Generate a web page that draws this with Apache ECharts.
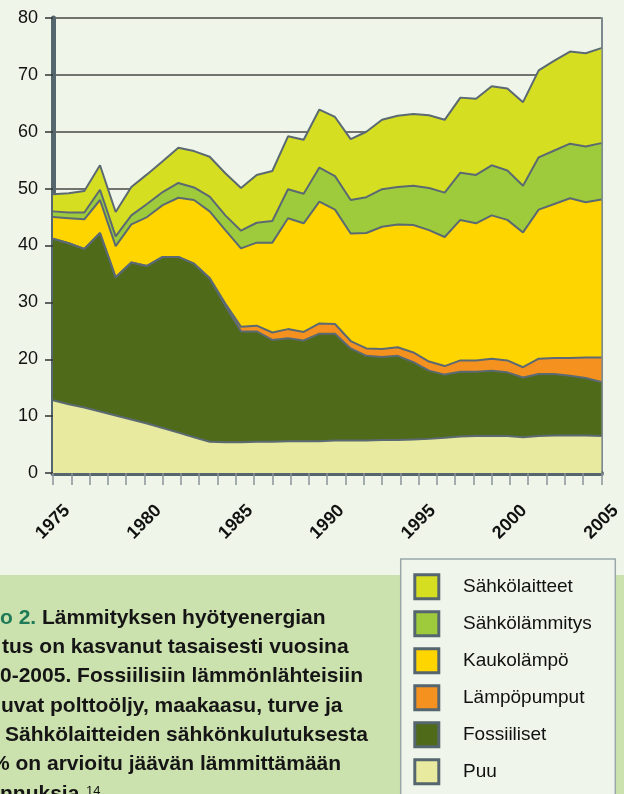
<!DOCTYPE html>
<html>
<head>
<meta charset="utf-8">
<script src="https://cdn.jsdelivr.net/npm/echarts@6/dist/echarts.min.js"></script>
<style>
html,body{margin:0;padding:0;background:#eff5e8;}
#c{width:624px;height:794px;}
</style>
</head>
<body>
<div id="c"></div>
<script>
// data years (36 points, drawn across the labelled 1975–2005 axis)
const dataYears = [1970,1971,1972,1973,1974,1975,1976,1977,1978,1979,1980,1981,1982,1983,1984,1985,1986,1987,1988,1989,1990,1991,1992,1993,1994,1995,1996,1997,1998,1999,2000,2001,2002,2003,2004,2005];
// axis tick labels shown under the chart
const tickYears = [1975,1976,1977,1978,1979,1980,1981,1982,1983,1984,1985,1986,1987,1988,1989,1990,1991,1992,1993,1994,1995,1996,1997,1998,1999,2000,2001,2002,2003,2004,2005];
const yTicks = [0,10,20,30,40,50,60,70,80];

const puu = [12.8,12.1,11.5,10.8,10.1,9.4,8.7,7.9,7.1,6.3,5.5,5.4,5.4,5.5,5.5,5.6,5.6,5.6,5.7,5.7,5.7,5.8,5.8,5.9,6.0,6.2,6.4,6.5,6.5,6.5,6.3,6.5,6.6,6.6,6.6,6.5];
const fossiiliset = [28.4,28.3,27.9,31.4,24.3,27.6,27.7,30.1,30.9,30.5,28.7,24.0,19.5,19.4,17.9,18.1,17.7,18.9,18.8,16.2,14.9,14.6,14.8,13.6,12.0,11.1,11.4,11.3,11.5,11.2,10.5,10.9,10.8,10.5,10.1,9.5];
const lampopumput = [0,0,0,0,0,0,0,0,0,0,0.1,0.4,0.8,1.0,1.3,1.6,1.5,1.8,1.7,1.3,1.3,1.4,1.5,1.7,1.6,1.5,2.0,2.0,2.1,2.1,1.8,2.7,2.8,3.1,3.6,4.3];
const kaukolampo = [3.8,4.4,5.2,5.8,5.5,6.7,8.6,9.1,10.4,11.2,11.7,12.9,13.8,14.6,15.8,19.5,19.1,21.4,20.1,18.9,20.3,21.5,21.6,22.4,23.1,22.7,24.7,24.1,25.2,24.7,23.7,26.2,27.1,28.1,27.3,27.8];
const sahkolammitys = [1.0,1.0,1.2,1.8,1.7,1.6,2.3,2.3,2.6,2.2,2.6,2.6,3.1,3.5,3.8,5.1,5.2,6.0,5.9,5.9,6.3,6.6,6.6,6.9,7.4,7.8,8.3,8.5,8.8,8.7,8.2,9.2,9.4,9.6,9.8,9.9];
const sahkolaitteet = [3.0,3.4,3.8,4.3,4.3,5.0,5.2,5.4,6.2,6.4,7.0,7.4,7.5,8.4,8.8,9.3,9.5,10.2,10.4,10.7,11.5,12.2,12.5,12.6,12.8,12.8,13.2,13.4,13.9,14.4,14.7,15.3,15.8,16.2,16.4,16.7];

const seriesNames = ['Puu','Fossiiliset','Lämpöpumput','Kaukolämpö','Sähkölämmitys','Sähkölaitteet'];
const seriesData = [puu,fossiiliset,lampopumput,kaukolampo,sahkolammitys,sahkolaitteet];
const seriesColors = ['#e8eb9f','#4f6b1a','#f5911f','#ffd500','#9ecb3b','#d6de22'];
const legendOrder = ['Sähkölaitteet','Sähkölämmitys','Kaukolämpö','Lämpöpumput','Fossiiliset','Puu'];

const captionLines = [
  '{g|o 2.} Lämmityksen hyötyenergian',
  'tus on kasvanut tasaisesti vuosina',
  '0-2005. Fossiilisiin lämmönlähteisiin',
  'uvat polttoöljy, maakaasu, turve ja',
  'Sähkölaitteiden sähkönkulutuksesta',
  '% on arvioitu jäävän lämmittämään',
  'nnuksia.'
];
const captionX = [0,2,0,1,5,-9,0];

const chart = echarts.init(document.getElementById('c'), null, {renderer:'canvas'});

const lineColor = '#5b6a72';
const series = seriesNames.map((n,i)=>({
  name:n, type:'line', stack:'total', xAxisIndex:0, yAxisIndex:0,
  data:seriesData[i], symbol:'none', smooth:false,
  lineStyle:{color:lineColor, width:2},
  itemStyle:{color:seriesColors[i]},
  areaStyle:{color:seriesColors[i], opacity:1},
  emphasis:{disabled:true}, animation:false
}));

const capFont = 'bold 21px "Liberation Sans", Arial, sans-serif';
const graphics = [
  {type:'rect', z:-10, shape:{x:0,y:575,width:624,height:219}, style:{fill:'#cce2ae'}},
  {type:'rect', z:-9, shape:{x:400.7,y:559,width:214.6,height:260}, style:{fill:'#eff5ea', stroke:'#9ba7ab', lineWidth:1.5}}
];
// legend (drawn as graphics so the six rows keep the original spacing)
legendOrder.forEach((name,k)=>{
  const col = seriesColors[seriesNames.indexOf(name)];
  graphics.push({type:'rect', z:5, shape:{x:414.8, y:574.8+37*k, width:24, height:24},
    style:{fill:col, stroke:'#56666f', lineWidth:3}});
  graphics.push({type:'text', z:5, x:463, y:587+37*k,
    style:{text:name, fill:'#111', font:'19px "Liberation Sans", Arial, sans-serif', verticalAlign:'middle', align:'left'}});
});
captionLines.forEach((t,i)=>{
  graphics.push({type:'text', z:10, x:captionX[i], y:618+i*29.3,
    style:{text:t, fill:'#151515', font:capFont,
      verticalAlign:'middle', align:'left',
      rich:{g:{fill:'#1f7a58', font:capFont}}}});
});
graphics.push({type:'text', z:10, x:86, y:785, style:{text:'14', fill:'#151515', font:'13px "Liberation Sans", Arial, sans-serif', verticalAlign:'top'}});

chart.setOption({
  backgroundColor:'#eff5e8',
  animation:false,
  grid:{left:53, right:11, top:18, bottom:321, containLabel:false},
  xAxis:[
    {type:'category', data:dataYears, boundaryGap:false, show:false, gridIndex:0},
    {type:'category', data:tickYears, boundaryGap:false, gridIndex:0, position:'bottom', offset:2,
      axisLine:{show:true, lineStyle:{color:'#56666f', width:5}},
      axisTick:{show:true, interval:0, length:12, lineStyle:{color:'#8a9498', width:1.5}},
      axisLabel:{interval:4, rotate:45, align:'center', verticalAlign:'middle', margin:47,
        fontSize:18, fontWeight:'bold', color:'#111', fontFamily:'"Liberation Sans", Arial, sans-serif'},
      splitLine:{show:false}}
  ],
  yAxis:[
    {type:'value', min:0, max:80, interval:10,
      axisLine:{show:true, lineStyle:{color:'#56666f', width:5}},
      axisTick:{show:true, length:8, lineStyle:{color:'#333', width:1.5}},
      axisLabel:{margin:15, fontSize:18, color:'#111', fontFamily:'"Liberation Sans", Arial, sans-serif',
        formatter:(v)=> yTicks.includes(v) ? String(v) : ''},
      splitLine:{show:true, lineStyle:{color:'#474747', width:1.5}}},
    {type:'value', min:0, max:80, interval:10, position:'right',
      axisLine:{show:true, lineStyle:{color:'#7c898e', width:2}},
      axisTick:{show:false}, axisLabel:{show:false}, splitLine:{show:false}}
  ],
  graphic:graphics,
  series:series
});
</script>
</body>
</html>
